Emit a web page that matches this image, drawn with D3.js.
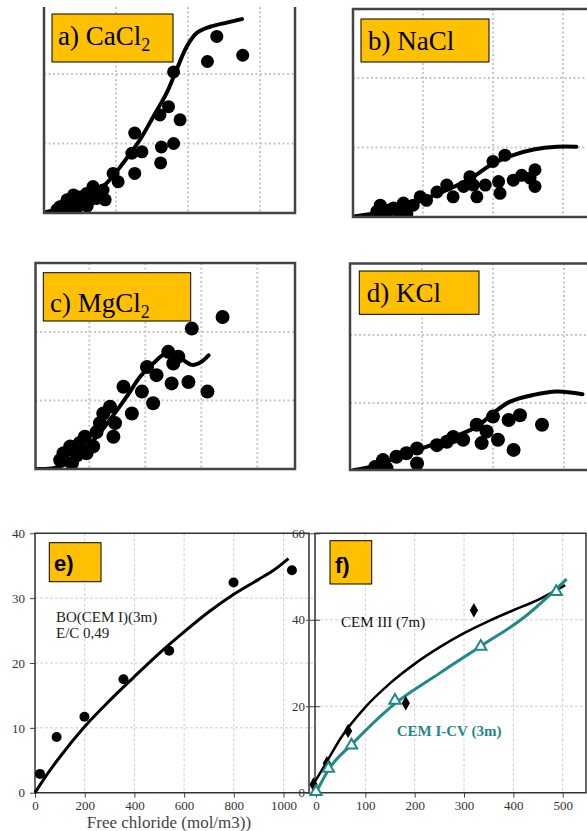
<!DOCTYPE html>
<html><head><meta charset="utf-8">
<script src="https://cdn.jsdelivr.net/npm/d3@7"></script>
<style>body{margin:0;background:#fff} svg{display:block}</style>
</head><body><svg id="c" width="587" height="831"></svg>
<script>
// ---------- DATA (grid units for panels a-d) ----------
const caCl2Curve = [[0.04,0.02],[0.32,0.08],[0.59,0.21],[0.87,0.43],[1.10,0.72],[1.33,1.05],[1.52,1.39],[1.70,1.72],[1.84,2.06],[1.98,2.39],[2.12,2.59],[2.31,2.68],[2.54,2.74],[2.75,2.79]];
const caCl2Points = [[2.40,2.54],[2.27,2.18],[2.76,2.27],[1.80,2.03],[1.73,1.53],[1.89,1.34],[1.61,1.41],[1.80,1.00],[1.63,0.95],[1.62,0.72],[1.26,1.15],[1.36,0.88],[1.22,0.86],[0.96,0.57],[1.26,0.57],[1.03,0.45],[0.82,0.33],[0.85,0.19],[0.68,0.38],[0.59,0.28],[0.50,0.23],[0.41,0.26],[0.32,0.19],[0.29,0.12],[0.45,0.14],[0.64,0.19],[0.55,0.12],[0.73,0.21],[0.38,0.09],[0.22,0.09],[0.30,0.04],[0.45,0.06],[0.60,0.10],[0.18,0.05]];

const naClCurve = [[0.03,0.01],[0.29,0.05],[0.67,0.15],[1.05,0.27],[1.39,0.41],[1.72,0.58],[2.00,0.77],[2.29,0.89],[2.58,0.97],[2.91,1.01],[3.19,1.01]];
const naClPoints = [[0.39,0.17],[0.46,0.05],[0.34,0.08],[0.58,0.13],[0.77,0.05],[0.72,0.20],[0.52,0.10],[0.65,0.07],[0.86,0.17],[0.96,0.29],[1.05,0.24],[1.20,0.36],[1.34,0.46],[1.43,0.29],[1.58,0.44],[1.67,0.58],[1.77,0.29],[1.89,0.46],[2.00,0.80],[2.17,0.89],[2.10,0.34],[2.08,0.51],[2.29,0.53],[2.41,0.60],[2.53,0.56],[2.60,0.68],[2.60,0.44],[1.72,0.46]];

const mgCl2Curve = [[0.06,0.00],[0.36,0.01],[0.60,0.08],[0.83,0.23],[1.13,0.47],[1.37,0.72],[1.67,1.06],[1.91,1.35],[2.14,1.54],[2.38,1.69],[2.62,1.62],[2.83,1.52],[3.01,1.57],[3.13,1.66]];
const mgCl2Points = [[3.38,2.22],[2.83,2.05],[2.41,1.71],[2.59,1.64],[2.50,1.54],[2.03,1.49],[2.20,1.37],[2.47,1.25],[2.77,1.27],[3.11,1.13],[1.61,1.20],[1.94,1.13],[2.14,0.96],[1.76,0.81],[1.37,0.91],[1.25,0.81],[1.19,0.67],[1.46,0.67],[1.43,0.47],[1.13,0.54],[0.92,0.47],[0.83,0.38],[1.07,0.33],[0.66,0.33],[0.54,0.23],[0.78,0.20],[0.95,0.23],[0.48,0.13],[0.69,0.08]];

const kClCurve = [[0.03,0.01],[0.31,0.07],[0.69,0.21],[1.07,0.36],[1.44,0.50],[1.77,0.65],[2.00,0.85],[2.24,1.02],[2.57,1.12],[2.90,1.17],[3.26,1.13]];
const kClPoints = [[0.34,0.06],[0.45,0.16],[0.64,0.21],[0.50,0.04],[0.78,0.26],[0.93,0.33],[0.93,0.11],[1.21,0.38],[1.35,0.43],[1.44,0.50],[1.58,0.46],[1.77,0.68],[1.84,0.41],[1.91,0.58],[2.07,0.46],[2.29,0.31],[2.22,0.75],[2.38,0.82],[2.69,0.68],[2.00,0.80]];

// panel e: free chloride (mol/m3) vs bound chloride
const eTicksX = [0,200,400,600,800,1000];
const eTicksY = [0,10,20,30,40];
const boPoints = [[20,2.9],[87,8.6],[199,11.7],[356,17.5],[540,21.9],[799,32.4],[1034,34.3]];
const boCurve = [[0,0],[50,2.9],[100,5.5],[200,10.2],[300,14.2],[400,17.9],[500,21.5],[600,24.8],[700,27.9],[800,30.6],[900,32.9],[960,34.3],[1020,36.1]];

// panel f
const fTicksX = [0,100,200,300,400,500];
const fTicksY = [0,20,40,60];
const cem3Points = [[-5,1.9],[22,6.8],[65,14.3],[182,20.7],[320,42.2]];
const cem3Curve = [[-9,1.4],[0,3.0],[22,7.2],[50,12.6],[100,19.8],[150,25.3],[200,29.8],[250,33.6],[300,36.9],[350,39.7],[400,42.2],[450,44.6],[505,48.0]];
const cemCvPoints = [[0,0.2],[25,5.6],[72,11],[160,21.3],[334,33.8],[487,46.5]];
const cemCvCurve = [[0,0],[27,5.6],[73.6,11.3],[160,20.6],[250,27.6],[334,33.9],[420,40.4],[508,49.4]];

// ---------- DRAWING ----------
const svg = d3.select("#c");
const SERIF = "'Liberation Serif','Times New Roman',serif";
const SANS = "'Liberation Sans',Arial,sans-serif";
const BOX = "#FFC000";
const TEAL = "#1e8a86";
let clipId = 0;

function smallPanel(o) {
  const x = d3.scaleLinear().domain([0, 1]).range([o.x0, o.x0 + o.xu]);
  const y = d3.scaleLinear().domain([0, 1]).range([o.y0, o.y0 - o.yu]);
  const g = svg.append("g");
  const id = "clip" + (clipId++);
  svg.append("clipPath").attr("id", id).append("rect")
    .attr("x", o.l).attr("y", o.t).attr("width", o.r - o.l).attr("height", o.b - o.t);
  const inner = g.append("g").attr("clip-path", `url(#${id})`);
  inner.selectAll(".gx").data(o.gridX).join("line")
    .attr("x1", d => x(d)).attr("x2", d => x(d)).attr("y1", o.t).attr("y2", o.b)
    .attr("stroke", "#c8c8c8").attr("stroke-width", 2).attr("stroke-dasharray", "2,2.5");
  inner.selectAll(".gy").data(o.gridY).join("line")
    .attr("y1", d => y(d)).attr("y2", d => y(d)).attr("x1", o.l).attr("x2", o.r)
    .attr("stroke", "#c8c8c8").attr("stroke-width", 2).attr("stroke-dasharray", "2,2.5");
  inner.append("path").datum(o.curve)
    .attr("d", d3.line().x(d => x(d[0])).y(d => y(d[1])).curve(d3.curveCatmullRom))
    .attr("fill", "none").attr("stroke", "#000").attr("stroke-width", 4).attr("stroke-linecap", "round");
  inner.selectAll(".pt").data(o.points).join("circle")
    .attr("cx", d => x(d[0])).attr("cy", d => y(d[1])).attr("r", o.r0 || 6.5).attr("fill", "#000");
  const fp = o.top
    ? `M${o.l},${o.b}V${o.t}H${o.r}V${o.b}Z`
    : `M${o.l},${o.t}V${o.b}H${o.r}V${o.t}`;
  g.append("path").attr("d", fp).attr("fill", "none").attr("stroke", "#444").attr("stroke-width", 2.5);
  g.append("rect").attr("x", o.box[0]).attr("y", o.box[1]).attr("width", o.box[2] - o.box[0]).attr("height", o.box[3] - o.box[1])
    .attr("fill", BOX).attr("stroke", "#000").attr("stroke-width", 1);
  const t = g.append("text").attr("x", o.tx).attr("y", o.ty)
    .style("font-family", SERIF).style("font-size", "27px").attr("fill", "#000");
  t.append("tspan").text(o.label);
  if (o.sub) t.append("tspan").style("font-size", "18px").attr("dy", 6).text(o.sub);
}

smallPanel({l:44, t:7, r:295, b:213, top:false, x0:44, xu:72, y0:213, yu:69.5, gridX:[1,2,3], gridY:[1,2],
  curve:caCl2Curve, points:caCl2Points, box:[52,14,173,62], tx:58, ty:45, label:"a) CaCl", sub:"2"});
smallPanel({l:353, t:9, r:640, b:217, top:true, x0:353, xu:70, y0:217, yu:69.5, gridX:[1,2,3], gridY:[1,2],
  curve:naClCurve, points:naClPoints, box:[361,19,489,62], tx:368, ty:50, label:"b) NaCl"});
smallPanel({l:35.5, t:263, r:295, b:469, top:true, x0:33.3, xu:56, y0:469, yu:68.5, gridX:[1,2,3,4], gridY:[1,2],
  curve:mgCl2Curve, points:mgCl2Points, r0:7, box:[43.3,272.7,190.7,321], tx:50, ty:311.7, label:"c) MgCl", sub:"2"});
smallPanel({l:350, t:263.5, r:640, b:470, top:true, x0:351, xu:71, y0:471, yu:68, gridX:[1,2,3], gridY:[1,2],
  curve:kClCurve, points:kClPoints, r0:7, box:[359.3,271,479,314.3], tx:366.7, ty:301.7, label:"d) KCl"});

function styleAxis(a) {
  a.select(".domain").remove();
  a.selectAll("line").attr("stroke", "#444");
  a.selectAll("text").style("font-family", SERIF).style("font-size", "13px").attr("fill", "#333");
}

// ---------- panel e ----------
(function(){
  const L = 35, R = 309, T = 533.3, B = 792.7;
  const x = d3.scaleLinear().domain([0, 1000]).range([35, 283.5]);
  const y = d3.scaleLinear().domain([0, 40]).range([B, T]);
  const g = svg.append("g");
  g.selectAll(".gx").data(eTicksX.slice(1)).join("line")
    .attr("x1", d => x(d)).attr("x2", d => x(d)).attr("y1", T).attr("y2", B)
    .attr("stroke", "#cfcfcf").attr("stroke-dasharray", "3,2");
  g.selectAll(".gy").data(eTicksY.slice(1, -1)).join("line")
    .attr("y1", d => y(d)).attr("y2", d => y(d)).attr("x1", L).attr("x2", R + 6)
    .attr("stroke", "#cfcfcf").attr("stroke-dasharray", "3,2");
  const ax = g.append("g").attr("transform", `translate(0,${B})`)
    .call(d3.axisBottom(x).tickValues(eTicksX).tickFormat(d3.format("d")).tickSize(5).tickPadding(3));
  const ay = g.append("g").attr("transform", `translate(${L},0)`)
    .call(d3.axisLeft(y).tickValues(eTicksY).tickFormat(d3.format("d")).tickSize(5).tickPadding(5));
  styleAxis(ax); styleAxis(ay);
  g.append("path").attr("d", `M${L},${T}H${R}V${B}H${L}Z`).attr("fill", "none").attr("stroke", "#333").attr("stroke-width", 1.5);
  g.append("path").datum(boCurve)
    .attr("d", d3.line().x(d => x(d[0])).y(d => y(d[1])).curve(d3.curveMonotoneX))
    .attr("fill", "none").attr("stroke", "#000").attr("stroke-width", 3);
  g.selectAll(".pt").data(boPoints).join("circle")
    .attr("cx", d => x(d[0])).attr("cy", d => y(d[1])).attr("r", 5).attr("fill", "#000");
  g.append("rect").attr("x", 49.3).attr("y", 542.7).attr("width", 51.7).attr("height", 39)
    .attr("fill", BOX).attr("stroke", "#000");
  g.append("text").attr("x", 54).attr("y", 570.5).style("font-family", SANS).style("font-weight", "bold")
    .style("font-size", "22px").text("e)");
  g.append("text").attr("x", 56).attr("y", 621.7).style("font-family", SERIF).style("font-size", "15px").attr("fill", "#222").text("BO(CEM I)(3m)");
  g.append("text").attr("x", 56).attr("y", 637.5).style("font-family", SERIF).style("font-size", "15px").attr("fill", "#222").text("E/C 0,49");
  g.append("text").attr("x", 169).attr("y", 828).attr("text-anchor", "middle").style("font-family", SERIF)
    .style("font-size", "17px").attr("fill", "#444").text("Free chloride (mol/m3))");
})();

// ---------- panel f ----------
(function(){
  const L = 315, R = 586, T = 533.3, B = 792.7;
  const x = d3.scaleLinear().domain([0, 500]).range([316, 562.7]);
  const y = d3.scaleLinear().domain([0, 60]).range([B, T]);
  const g = svg.append("g");
  g.append("rect").attr("x", L).attr("y", T).attr("width", R - L).attr("height", B - T).attr("fill", "#fff");
  g.selectAll(".gx").data(fTicksX.slice(1)).join("line")
    .attr("x1", d => x(d)).attr("x2", d => x(d)).attr("y1", T).attr("y2", B)
    .attr("stroke", "#cfcfcf").attr("stroke-dasharray", "3,2");
  g.selectAll(".gy").data(fTicksY.slice(1, -1)).join("line")
    .attr("y1", d => y(d)).attr("y2", d => y(d)).attr("x1", L).attr("x2", R)
    .attr("stroke", "#cfcfcf").attr("stroke-dasharray", "3,2");
  const ax = g.append("g").attr("transform", `translate(0,${B})`)
    .call(d3.axisBottom(x).tickValues(fTicksX).tickFormat(d3.format("d")).tickSize(5).tickPadding(3));
  const ay = g.append("g").attr("transform", `translate(${L},0)`)
    .call(d3.axisLeft(y).tickValues(fTicksY).tickFormat(d3.format("d")).tickSize(9).tickPadding(1));
  g.append("g").attr("transform", `translate(${L},0)`)
    .call(d3.axisRight(y).tickValues(fTicksY).tickSize(5).tickFormat(""))
    .call(a => { a.select(".domain").remove(); a.selectAll("line").attr("stroke", "#444"); });
  styleAxis(ax); styleAxis(ay);
  g.append("path").attr("d", `M${L},${T}H${R}V${B}H${L}Z`).attr("fill", "none").attr("stroke", "#333").attr("stroke-width", 1.5);
  const line = d3.line().x(d => x(d[0])).y(d => y(d[1])).curve(d3.curveMonotoneX);
  g.append("path").datum(cem3Curve).attr("d", line).attr("fill", "none").attr("stroke", "#000").attr("stroke-width", 2.5);
  g.append("path").datum(cemCvCurve).attr("d", line).attr("fill", "none").attr("stroke", TEAL).attr("stroke-width", 3);
  g.selectAll(".dm").data(cem3Points).join("path")
    .attr("transform", d => `translate(${x(d[0])},${y(d[1])})`)
    .attr("d", d3.symbol(d3.symbolDiamond, 60)).attr("fill", "#000");
  g.selectAll(".tr").data(cemCvPoints).join("path")
    .attr("transform", d => `translate(${x(d[0])},${y(d[1])})`)
    .attr("d", d3.symbol(d3.symbolTriangle, 55)).attr("fill", "#fff").attr("stroke", TEAL).attr("stroke-width", 2);
  g.append("rect").attr("x", 330).attr("y", 540.7).attr("width", 41.7).attr("height", 43.3)
    .attr("fill", BOX).attr("stroke", "#000");
  g.append("text").attr("x", 335).attr("y", 573).style("font-family", SANS).style("font-weight", "bold")
    .style("font-size", "22px").text("f)");
  g.append("text").attr("x", 341).attr("y", 626.7).style("font-family", SERIF).style("font-size", "15px").attr("fill", "#111").text("CEM III (7m)");
  g.append("text").attr("x", 396.7).attr("y", 736).style("font-family", SERIF).style("font-weight", "bold")
    .style("font-size", "15px").attr("fill", TEAL).text("CEM I-CV (3m)");
})();
</script></body></html>
